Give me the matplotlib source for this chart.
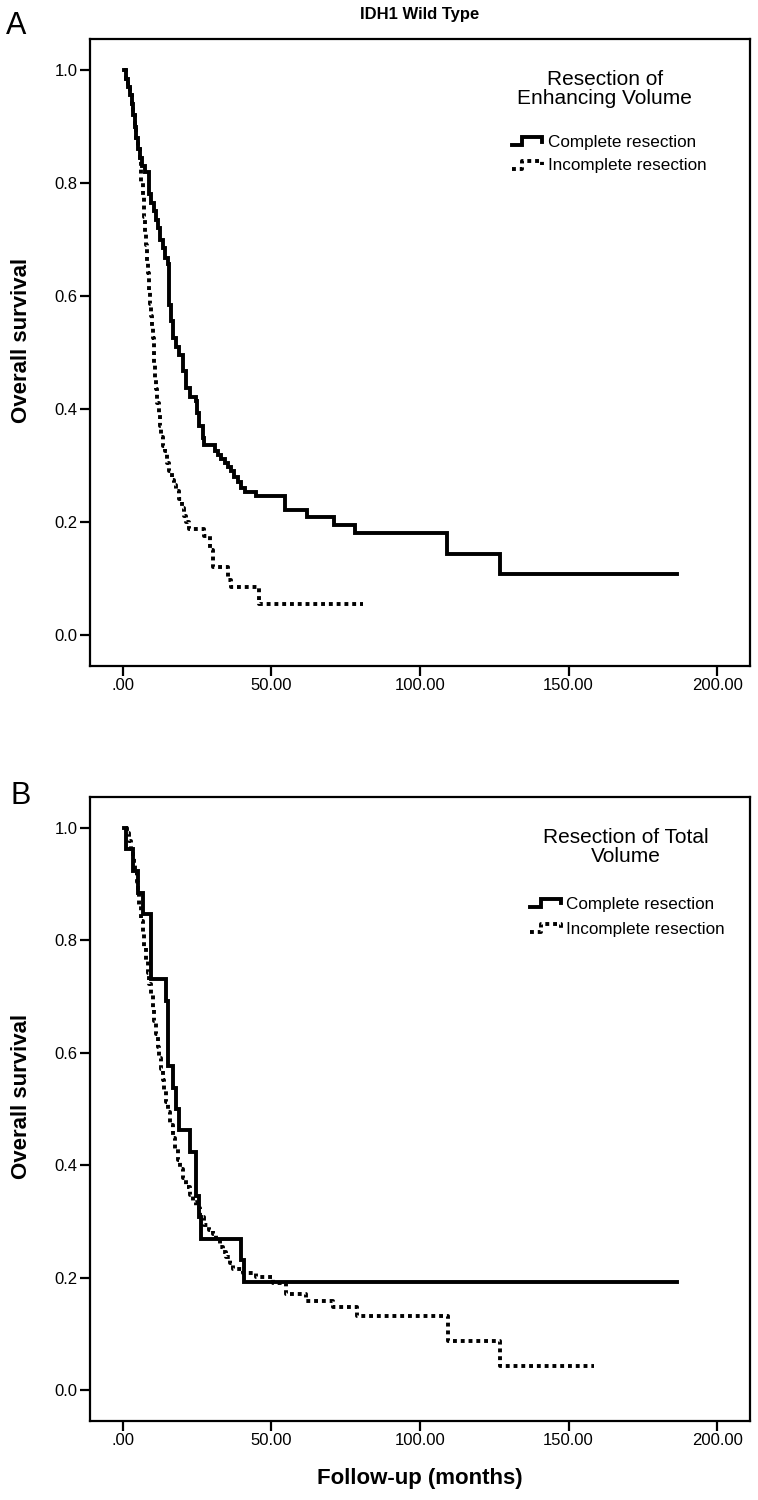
import matplotlib
matplotlib.use("Agg")
import matplotlib.pyplot as plt
from matplotlib.legend_handler import HandlerBase
from matplotlib.lines import Line2D

plt.rcParams['font.family'] = ['Liberation Sans', 'DejaVu Sans']

# --- panel A: resection of enhancing volume (months, survival) ---
a_complete_t = [0.5, 1.2, 1.8, 2.4, 3.0, 3.5, 4.0, 4.6, 5.2, 5.8, 6.5, 7.4, 9.0, 9.6, 10.5,
                11.2, 11.8, 12.4, 13.5, 14.3, 15.2, 15.5, 15.7, 16.2, 16.9, 18.0, 19.1,
                20.2, 21.3, 22.5, 24.5, 25.0, 25.8, 27.0, 27.5, 30.9, 32.0, 33.1, 34.3,
                35.4, 36.5, 37.6, 38.8, 39.9, 41.0, 44.9, 54.5, 62.0, 71.0, 78.0, 109.1,
                127.0, 186.4]
a_complete_s = [1.0, 0.985, 0.97, 0.955, 0.94, 0.92, 0.90, 0.88, 0.86, 0.845, 0.83, 0.82,
                0.78, 0.765, 0.75, 0.735, 0.72, 0.70, 0.685, 0.668, 0.657, 0.627, 0.584,
                0.555, 0.525, 0.51, 0.496, 0.467, 0.437, 0.422, 0.415, 0.393, 0.37, 0.348,
                0.337, 0.326, 0.318, 0.312, 0.304, 0.297, 0.29, 0.279, 0.271, 0.26, 0.253,
                0.246, 0.222, 0.209, 0.195, 0.181, 0.143, 0.108, 0.108]

a_incomplete_t = [0.5, 1.2, 1.8, 2.4, 3.0, 3.5, 4.0, 4.6, 5.2, 5.8, 6.2, 6.7, 7.2, 7.6, 7.9,
                  8.2, 8.5, 8.9, 9.3, 9.6, 9.9, 10.1, 10.4, 10.7, 11.0, 11.3, 11.7, 12.2,
                  12.6, 13.0, 13.6, 14.2, 15.0, 15.7, 16.5, 17.3, 18.0, 19.0, 20.0, 20.6,
                  21.3, 22.2, 27.5, 29.5, 30.5, 35.3, 36.6, 45.7, 80.7]
a_incomplete_s = [1.0, 0.985, 0.97, 0.955, 0.94, 0.92, 0.90, 0.88, 0.86, 0.845, 0.80, 0.775,
                  0.74, 0.71, 0.69, 0.66, 0.64, 0.61, 0.585, 0.565, 0.545, 0.525, 0.50,
                  0.48, 0.455, 0.435, 0.41, 0.39, 0.37, 0.35, 0.335, 0.325, 0.305, 0.29,
                  0.275, 0.265, 0.255, 0.24, 0.225, 0.21, 0.20, 0.188, 0.175, 0.15, 0.12,
                  0.098, 0.085, 0.055, 0.055]

# --- panel B: resection of total volume ---
b_complete_t = [0.6, 1.1, 3.4, 5.3, 6.7, 9.6, 14.6, 15.2, 16.9, 17.8, 19.1, 22.5, 24.7,
                25.6, 26.4, 39.9, 40.7, 186.4]
b_complete_s = [1.0, 0.962, 0.923, 0.885, 0.846, 0.731, 0.692, 0.577, 0.538, 0.5, 0.462,
                0.423, 0.346, 0.308, 0.269, 0.231, 0.192, 0.192]

b_incomplete_t = [1.1, 1.6, 2.2, 2.8, 3.4, 3.9, 4.3, 4.7, 5.1, 5.6, 6.2, 6.7, 7.3, 7.8, 8.4,
                  9.0, 9.6, 10.1, 10.7, 11.2, 11.8, 12.3, 12.9, 13.4, 14.0, 14.6, 15.2,
                  16.0, 16.9, 17.7, 18.5, 19.3, 20.2, 21.3, 22.5, 23.6, 24.7, 26.0, 27.5,
                  29.0, 30.3, 31.5, 32.6, 33.7, 34.8, 36.0, 37.1, 40.4, 44.9, 50.6, 55.1,
                  61.8, 70.8, 78.7, 109.3, 126.9, 158.6]
b_incomplete_s = [1.0, 0.99, 0.977, 0.963, 0.95, 0.935, 0.919, 0.903, 0.888, 0.861, 0.834,
                  0.811, 0.788, 0.765, 0.741, 0.722, 0.703, 0.68, 0.656, 0.633, 0.61, 0.59,
                  0.571, 0.552, 0.533, 0.513, 0.494, 0.471, 0.448, 0.428, 0.409, 0.393,
                  0.378, 0.362, 0.347, 0.335, 0.324, 0.308, 0.293, 0.285, 0.278, 0.266,
                  0.255, 0.245, 0.236, 0.226, 0.216, 0.209, 0.201, 0.19, 0.17, 0.158,
                  0.147, 0.131, 0.087, 0.043, 0.043]

x_ticks = [0, 50, 100, 150, 200]
x_tick_labels = ['.00', '50.00', '100.00', '150.00', '200.00']
y_ticks = [0.0, 0.2, 0.4, 0.6, 0.8, 1.0]
y_tick_labels = ['0.0', '0.2', '0.4', '0.6', '0.8', '1.0']
group_labels = ['Complete resection', 'Incomplete resection']

LW = 2.8
DOT = (0, (1, 1))


class StepHandler(HandlerBase):
    # little SPSS style step used as legend key
    def create_artists(self, legend, orig_handle, xdescent, ydescent, width, height,
                       fontsize, trans):
        x0 = -xdescent
        y0 = -ydescent + 0.15 * height
        y1 = -ydescent + 0.8 * height
        xs = [x0, x0 + 0.35 * width, x0 + 0.35 * width, x0 + width, x0 + width]
        ys = [y0, y0, y1, y1, y0 + 0.3 * height]
        ln = Line2D(xs, ys, color='black', lw=LW, solid_joinstyle='miter')
        if orig_handle.get_linestyle() != '-':
            ln.set_linestyle(DOT)
        ln.set_transform(trans)
        return [ln]


def draw_panel(ax, comp_t, comp_s, inc_t, inc_s, title, title_x, leg_x, leg_y, lspace):
    h1, = ax.step(comp_t, comp_s, where='post', color='black', lw=LW,
                  solid_joinstyle='miter')
    h2, = ax.step(inc_t, inc_s, where='post', color='black', lw=LW, linestyle=DOT)
    ax.set_xlim(-11, 211)
    ax.set_ylim(-0.055, 1.055)
    ax.set_xticks(x_ticks)
    ax.set_xticklabels(x_tick_labels)
    ax.set_yticks(y_ticks)
    ax.set_yticklabels(y_tick_labels)
    ax.tick_params(direction='out', length=7, width=1.6, labelsize=12, pad=2)
    for sp in ax.spines.values():
        sp.set_linewidth(1.6)
    ax.set_ylabel('Overall survival', fontsize=16, fontweight='bold')
    ax.yaxis.set_label_coords(-0.088, 0.52)
    ax.text(title_x, 0.951, title, transform=ax.transAxes, ha='center', va='top',
            fontsize=15, linespacing=1.0)
    ax.legend([h1, h2], group_labels, handler_map={Line2D: StepHandler()},
              loc='upper left', bbox_to_anchor=(leg_x, leg_y), frameon=False,
              fontsize=12.3, handlelength=1.8, handletextpad=0.3, labelspacing=lspace,
              borderpad=0, borderaxespad=0)


fig = plt.figure(figsize=(7.58, 15), dpi=100)
axA = fig.add_axes([0.1187, 0.556, 0.8707, 0.418])
axB = fig.add_axes([0.1187, 0.0527, 0.8707, 0.416])

draw_panel(axA, a_complete_t, a_complete_s, a_incomplete_t, a_incomplete_s,
           'Resection of\nEnhancing Volume', 0.78, 0.639, 0.847, 0.5)
draw_panel(axB, b_complete_t, b_complete_s, b_incomplete_t, b_incomplete_s,
           'Resection of Total\nVolume', 0.812, 0.667, 0.84, 0.58)

axB.set_xlabel('Follow-up (months)', fontsize=16, fontweight='bold')
axB.xaxis.set_label_coords(0.5, -0.075)

fig.text(0.554, 0.9905, 'IDH1 Wild Type', ha='center', va='center', fontsize=12,
         fontweight='bold')
fig.text(0.008, 0.983, 'A', ha='left', va='center', fontsize=22)
fig.text(0.014, 0.469, 'B', ha='left', va='center', fontsize=22)

fig.savefig('out.png', dpi=100)
